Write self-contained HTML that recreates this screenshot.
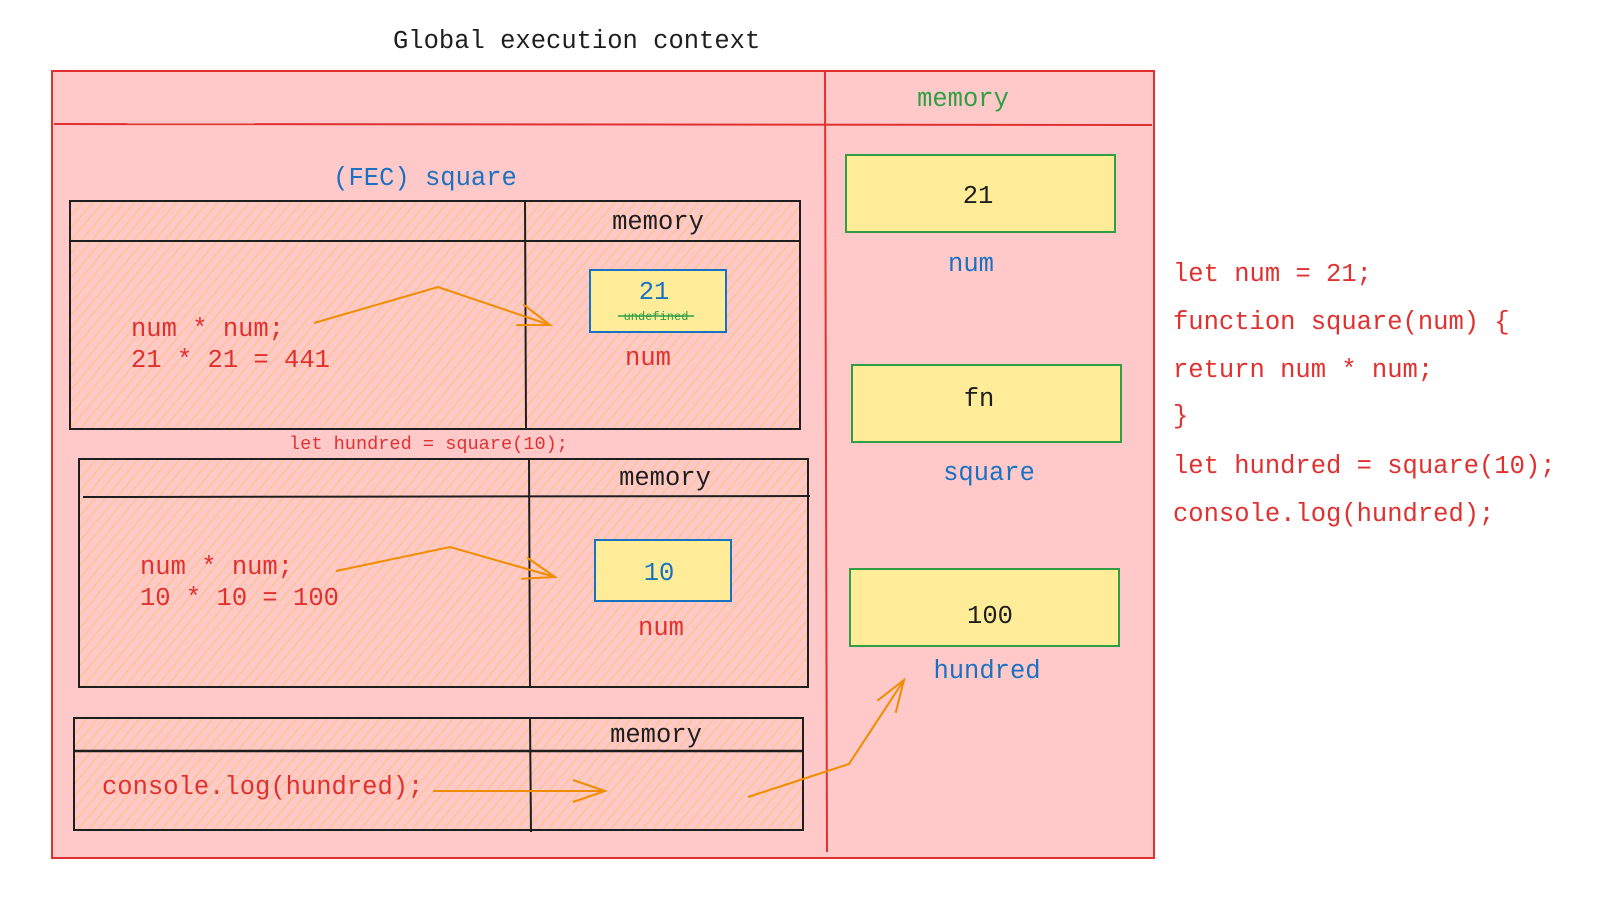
<!DOCTYPE html>
<html><head><meta charset="utf-8"><style>
html,body{margin:0;padding:0;background:#fff;}
svg{display:block;}
text{font-family:"Liberation Mono",monospace;font-size:25.5px;}
</style></head><body>
<svg width="1618" height="898" viewBox="0 0 1618 898" xmlns="http://www.w3.org/2000/svg">
<defs>
<pattern id="h" width="8" height="8" patternUnits="userSpaceOnUse" patternTransform="rotate(40)">
<rect width="8" height="8" fill="#ffc9c9"/>
<rect width="2" height="8" fill="#fcc48a" opacity="0.7"/>
</pattern>
<marker id="a" markerWidth="40" markerHeight="30" refX="0" refY="0" orient="auto" markerUnits="userSpaceOnUse" viewBox="-40 -15 40 30" overflow="visible">
<path d="M-32,-11 L0,0 L-32,11" fill="none" stroke="#f08c00" stroke-width="2"/>
</marker>
</defs>
<text x="393" y="48" fill="#1e1e1e">Global execution context</text>
<rect x="52" y="71" width="1102" height="787" fill="#ffc9c9" stroke="#e03131" stroke-width="2"/>
<line x1="54" y1="124" x2="1152" y2="125" stroke="#e03131" stroke-width="2"/>
<line x1="825" y1="72" x2="827" y2="852" stroke="#e03131" stroke-width="2"/>
<text x="963" y="106" fill="#2f9e44" text-anchor="middle">memory</text>
<text x="425" y="185" fill="#1971c2" text-anchor="middle">(FEC) square</text>

<rect x="70" y="201" width="730" height="228" fill="url(#h)" stroke="#1e1e1e" stroke-width="2"/>
<line x1="70" y1="241" x2="800" y2="241" stroke="#1e1e1e" stroke-width="2"/>
<line x1="525" y1="201" x2="526" y2="429" stroke="#1e1e1e" stroke-width="2"/>
<text x="658" y="229" fill="#1e1e1e" text-anchor="middle">memory</text>
<rect x="590" y="270" width="136" height="62" fill="#ffec99" stroke="#1971c2" stroke-width="2"/>
<text x="654" y="299" fill="#1971c2" text-anchor="middle">21</text>
<text x="656" y="320" fill="#2f9e44" text-anchor="middle" style="font-size:12px">undefined</text>
<line x1="618" y1="316" x2="694" y2="316" stroke="#2f9e44" stroke-width="1.5"/>
<text x="648" y="365" fill="#e03131" text-anchor="middle">num</text>
<text x="131" y="336" fill="#e03131">num * num;</text>
<text x="131" y="367" fill="#e03131">21 * 21 = 441</text>
<polyline points="314,323 438,287 550,325" fill="none" stroke="#f08c00" stroke-width="2" marker-end="url(#a)"/>
<text x="289" y="449" fill="#e03131" style="font-size:18.6px">let hundred = square(10);</text>

<rect x="79" y="459" width="729" height="228" fill="url(#h)" stroke="#1e1e1e" stroke-width="2"/>
<line x1="83" y1="497" x2="810" y2="496" stroke="#1e1e1e" stroke-width="2"/>
<line x1="529" y1="459" x2="530" y2="687" stroke="#1e1e1e" stroke-width="2"/>
<text x="665" y="485" fill="#1e1e1e" text-anchor="middle">memory</text>
<rect x="595" y="540" width="136" height="61" fill="#ffec99" stroke="#1971c2" stroke-width="2"/>
<text x="659" y="580" fill="#1971c2" text-anchor="middle">10</text>
<text x="661" y="635" fill="#e03131" text-anchor="middle">num</text>
<text x="140" y="574" fill="#e03131">num * num;</text>
<text x="140" y="605" fill="#e03131">10 * 10 = 100</text>
<polyline points="336,571 450,547 555,577" fill="none" stroke="#f08c00" stroke-width="2" marker-end="url(#a)"/>

<rect x="74" y="718" width="729" height="112" fill="url(#h)" stroke="#1e1e1e" stroke-width="2"/>
<line x1="74" y1="751" x2="803" y2="751" stroke="#1e1e1e" stroke-width="2.5"/>
<line x1="530" y1="718" x2="531" y2="832" stroke="#1e1e1e" stroke-width="2"/>
<text x="656" y="742" fill="#1e1e1e" text-anchor="middle">memory</text>
<text x="102" y="794" fill="#e03131">console.log(hundred);</text>
<line x1="433" y1="791" x2="605" y2="791" stroke="#f08c00" stroke-width="2" marker-end="url(#a)"/>
<polyline points="748,797 849,764 904,680" fill="none" stroke="#f08c00" stroke-width="2" marker-end="url(#a)"/>

<rect x="846" y="155" width="269" height="77" fill="#ffec99" stroke="#2f9e44" stroke-width="2"/>
<text x="978" y="203" fill="#1e1e1e" text-anchor="middle">21</text>
<text x="971" y="271" fill="#1971c2" text-anchor="middle">num</text>
<rect x="852" y="365" width="269" height="77" fill="#ffec99" stroke="#2f9e44" stroke-width="2"/>
<text x="979" y="406" fill="#1e1e1e" text-anchor="middle">fn</text>
<text x="989" y="480" fill="#1971c2" text-anchor="middle">square</text>
<rect x="850" y="569" width="269" height="77" fill="#ffec99" stroke="#2f9e44" stroke-width="2"/>
<text x="990" y="623" fill="#1e1e1e" text-anchor="middle">100</text>
<text x="987" y="678" fill="#1971c2" text-anchor="middle">hundred</text>

<g fill="#e03131">
<text x="1173" y="281">let num = 21;</text>
<text x="1173" y="329">function square(num) {</text>
<text x="1173" y="377">return num * num;</text>
<text x="1173" y="423">}</text>
<text x="1173" y="473">let hundred = square(10);</text>
<text x="1173" y="521">console.log(hundred);</text>
</g>
</svg>
</body></html>
